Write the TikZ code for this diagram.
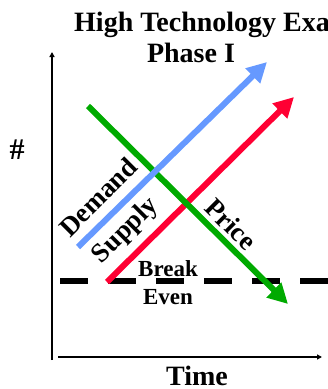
\documentclass[tikz,border=0pt]{standalone}
\usepackage{fontspec}
\setmainfont{Liberation Serif}
\usetikzlibrary{arrows.meta}
\definecolor{htBlue}{HTML}{6699FF}
\definecolor{htRed}{HTML}{FF0033}
\definecolor{htGreen}{HTML}{00AA00}
\tikzset{
  axis/.style    ={-{Triangle[length=5pt,width=5pt]},black,line width=2pt},
  trend/.style   ={-{Triangle[length=20pt,width=20pt]},line width=6pt},
  breakeven/.style={black,line width=6pt,dash pattern=on 28pt off 20pt},
  ttl/.style     ={font=\fontsize{28}{30}\selectfont\bfseries,inner sep=0pt},
  lbl/.style     ={font=\fontsize{27}{29}\selectfont\bfseries,inner sep=0pt},
  slbl/.style    ={font=\fontsize{23}{25}\selectfont\bfseries,inner sep=0pt},
}
\begin{document}
\begin{tikzpicture}[x=1pt,y=-1pt]
\useasboundingbox (0,0) rectangle (328,389);

% title
\node[ttl,anchor=base west] (title) at (74,31) {High Technology Example};
\node[ttl,anchor=base] (phase) at (191,62) {Phase I};

% axes
\coordinate (origin) at (52,360);
\coordinate (ytop) at (52,52);
\coordinate (xstart) at (58,357);
\coordinate (xend) at (322,357);
\draw[axis] (origin) -- (ytop);
\draw[axis] (xstart) -- (xend);
\node[lbl,font=\fontsize{30}{32}\selectfont\bfseries] (hash) at (17,150) {\#};
\node[ttl,anchor=base] (time) at (197,385) {Time};

% break even
\coordinate (beL) at (60,281);
\coordinate (beR) at (340,281);
\draw[breakeven] (beL) -- (beR);
\node[slbl,anchor=base] (break) at (168,276) {Break};
\node[slbl,anchor=base] (even) at (168,304) {Even};

% trends
\coordinate (s0) at (107,282);
\coordinate (s1) at (294,97);
\coordinate (p0) at (88,106);
\coordinate (p1) at (288,304);
\coordinate (d0) at (78,247);
\coordinate (d1) at (267,62);
\draw[trend,htRed] (s0) -- (s1);
\draw[trend,htGreen] (p0) -- (p1);
\draw[trend,htBlue] (d0) -- (d1);

\node[lbl,rotate=45] (demand) at (98,197) {Demand};
\node[lbl,rotate=45] (supply) at (126,231) {Supply};
\node[lbl,rotate=-45] (price) at (231,224) {Price};
\end{tikzpicture}
\end{document}
